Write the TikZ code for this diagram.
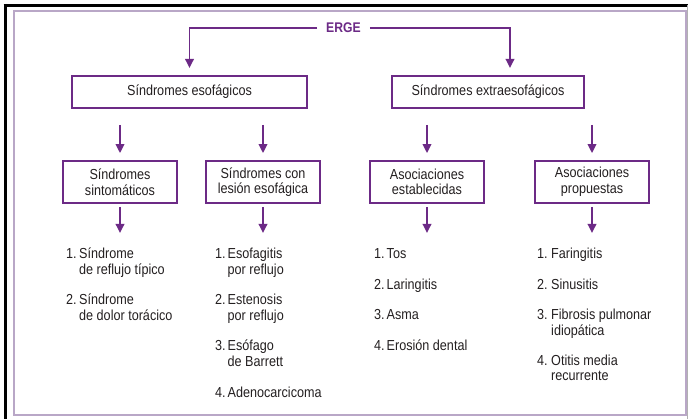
\documentclass[tikz,border=0pt]{standalone}
\usepackage{fontspec}
\setmainfont{Liberation Sans}[FakeStretch=0.87]
\usetikzlibrary{arrows.meta}
\definecolor{erpurple}{HTML}{6C2A86}
\definecolor{txt}{HTML}{231F20}
\definecolor{frame}{HTML}{B9A7C7}
\tikzset{
  boxnode/.style={draw=erpurple, line width=1.8pt, inner sep=0pt, align=center, text=txt,
    font=\fontsize{14.5}{15.5}\selectfont},
  arr/.style={draw=erpurple, line width=1.8pt, -{Triangle[width=8.5pt,length=9pt]}},
  itm/.style={anchor=base west, inner sep=0pt, text=txt, font=\fontsize{14.5}{15}\selectfont},
  lvtwo/.style={boxnode, minimum width=114pt, minimum height=42pt}
}
\begin{document}
\begin{tikzpicture}[x=1pt,y=-1pt]
\useasboundingbox (0,0) rectangle (688,419);
% frames
\draw[frame, line width=1.3pt] (14,11) rectangle (686,415);
\draw[black, line width=3pt] (5,4) -- (5,419);
\draw[black, line width=3pt] (3.5,5.5) -- (688,5.5);
\draw[gray!60, line width=0.6pt] (687.5,5) -- (687.5,419);
% top
\node[inner xsep=9pt, inner ysep=0pt, text=erpurple, font=\bfseries\fontsize{14}{15}\selectfont] (erge) at (343.5,28) {ERGE};
\node[boxnode, minimum width=235pt, minimum height=32pt] (se) at (189.5,92) {Síndromes esofágicos};
\node[boxnode, minimum width=192pt, minimum height=32pt] (sx) at (488,92) {Síndromes extraesofágicos};
\coordinate (ta) at (189.5,68);
\coordinate (tb) at (510,68);
\draw[arr] (erge.west) -| (ta);
\draw[arr] (erge.east) -| (tb);
% level 2 boxes
\node[lvtwo] (b1) at (120,182) {Síndromes\\sintomáticos};
\node[lvtwo] (b2) at (263,182) {Síndromes con\\lesión esofágica};
\node[lvtwo] (b3) at (427,182) {Asociaciones\\establecidas};
\node[lvtwo] (b4) at (592,182) {Asociaciones\\propuestas};
\coordinate (u1) at (120,125);
\coordinate (u2) at (263,125);
\coordinate (u3) at (427,125);
\coordinate (u4) at (592,125);
\draw[arr, shorten >=7pt] (u1) -- (b1.north);
\draw[arr, shorten >=7pt] (u2) -- (b2.north);
\draw[arr, shorten >=7pt] (u3) -- (b3.north);
\draw[arr, shorten >=7pt] (u4) -- (b4.north);
\coordinate (d1) at (120,233);
\coordinate (d2) at (263,233);
\coordinate (d3) at (427,233);
\coordinate (d4) at (592,233);
\draw[arr, shorten <=3pt] (b1.south) -- (d1);
\draw[arr, shorten <=3pt] (b2.south) -- (d2);
\draw[arr, shorten <=3pt] (b3.south) -- (d3);
\draw[arr, shorten <=3pt] (b4.south) -- (d4);
% column 1
\node[itm] (c1a) at (66,259) {\begin{tabular}[t]{@{}p{13pt}@{}l@{}}1.&Síndrome\\&de reflujo típico\end{tabular}};
\node[itm] (c1b) at (66,305) {\begin{tabular}[t]{@{}p{13pt}@{}l@{}}2.&Síndrome\\&de dolor torácico\end{tabular}};
% column 2
\node[itm] (c2a) at (215,259) {\begin{tabular}[t]{@{}p{12.5pt}@{}l@{}}1.&Esofagitis\\&por reflujo\end{tabular}};
\node[itm] (c2b) at (215,305) {\begin{tabular}[t]{@{}p{12.5pt}@{}l@{}}2.&Estenosis\\&por reflujo\end{tabular}};
\node[itm] (c2c) at (215,351) {\begin{tabular}[t]{@{}p{12.5pt}@{}l@{}}3.&Esófago\\&de Barrett\end{tabular}};
\node[itm] (c2d) at (215,398) {\begin{tabular}[t]{@{}p{12.5pt}@{}l@{}}4.&Adenocarcicoma\end{tabular}};
% column 3
\node[itm] (c3a) at (374,259) {\begin{tabular}[t]{@{}p{12.5pt}@{}l@{}}1.&Tos\end{tabular}};
\node[itm] (c3b) at (374,289.5) {\begin{tabular}[t]{@{}p{12.5pt}@{}l@{}}2.&Laringitis\end{tabular}};
\node[itm] (c3c) at (374,320) {\begin{tabular}[t]{@{}p{12.5pt}@{}l@{}}3.&Asma\end{tabular}};
\node[itm] (c3d) at (374,351) {\begin{tabular}[t]{@{}p{12.5pt}@{}l@{}}4.&Erosión dental\end{tabular}};
% column 4
\node[itm] (c4a) at (537,259) {\begin{tabular}[t]{@{}p{14pt}@{}l@{}}1.&Faringitis\end{tabular}};
\node[itm] (c4b) at (537,289.5) {\begin{tabular}[t]{@{}p{14pt}@{}l@{}}2.&Sinusitis\end{tabular}};
\node[itm] (c4c) at (537,320) {\begin{tabular}[t]{@{}p{14pt}@{}l@{}}3.&Fibrosis pulmonar\\&idiopática\end{tabular}};
\node[itm] (c4d) at (537,366) {\begin{tabular}[t]{@{}p{14pt}@{}l@{}}4.&Otitis media\\&recurrente\end{tabular}};
\end{tikzpicture}
\end{document}
